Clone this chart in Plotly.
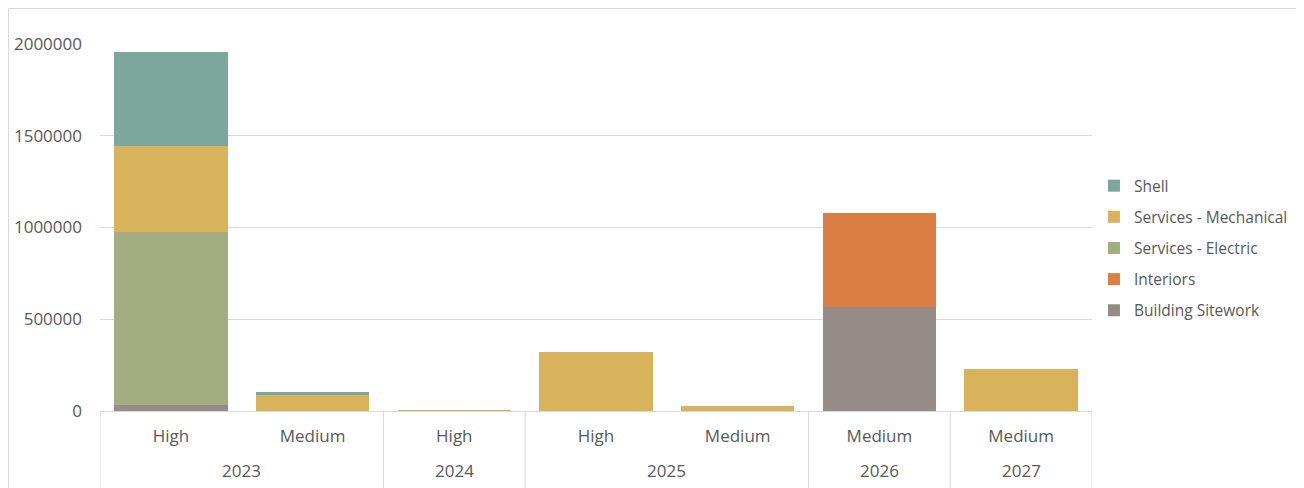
import plotly.graph_objects as go

# categories (year, priority)
years = ["2023", "2023", "2024", "2025", "2025", "2026", "2027"]
levels = ["High", "Medium", "High", "High", "Medium", "Medium", "Medium"]

# series values
building_sitework = [33000, 0, 0, 0, 0, 568000, 0]
interiors = [0, 0, 0, 0, 0, 509000, 0]
services_electric = [941000, 0, 0, 0, 0, 0, 0]
services_mechanical = [472000, 87000, 5000, 321000, 28000, 0, 227000]
shell = [510000, 17000, 0, 0, 0, 0, 0]

series = [
    ("Building Sitework", building_sitework, "#958B89"),
    ("Interiors", interiors, "#DC7F45"),
    ("Services - Electric", services_electric, "#A2AD80"),
    ("Services - Mechanical", services_mechanical, "#D9B25C"),
    ("Shell", shell, "#7BA79D"),
]

pos = list(range(len(levels)))

fig = go.Figure()
for rank, (name, vals, color) in enumerate(series):
    fig.add_trace(go.Bar(
        x=pos, y=vals, name=name,
        marker=dict(color=color, line=dict(width=0)),
        legendgroup=name, legendrank=len(series) - rank,
    ))

# year group labels and dividers
groups = []
for i, yr in enumerate(years):
    if groups and groups[-1][0] == yr:
        groups[-1][2] = i
    else:
        groups.append([yr, i, i])

annotations = []
shapes = []
for yr, a, b in groups:
    annotations.append(dict(
        x=(a + b) / 2, y=-0.161, xref="x", yref="paper",
        text=yr, showarrow=False, yanchor="middle",
        font=dict(size=17, color="#595959"),
    ))
bounds = [g[1] - 0.5 for g in groups] + [groups[-1][2] + 0.5]
for xb in bounds:
    shapes.append(dict(type="line", xref="x", yref="paper",
                       x0=xb, x1=xb, y0=0, y1=-0.3,
                       line=dict(color="#D9D9D9", width=1)))
# outer chart frame
shapes.append(dict(type="rect", xref="paper", yref="paper",
                   x0=-0.0922, x1=1.3, y0=-0.3, y1=1.0967,
                   line=dict(color="#D9D9D9", width=1)))

font_family = "Open Sans, Liberation Sans, sans-serif"
fig.update_layout(
    barmode="stack",
    bargap=0.2,
    width=1304, height=488,
    margin=dict(l=92, r=220, t=36, b=85, autoexpand=False),
    paper_bgcolor="white",
    plot_bgcolor="white",
    font=dict(family=font_family, size=16, color="#595959"),
    showlegend=True,
    legend=dict(
        xref="container", yref="container",
        x=0.8328, y=0.508, xanchor="left", yanchor="middle",
        traceorder="grouped", tracegroupgap=8,
        font=dict(size=15.5, color="#595959"),
        itemwidth=30,
    ),
    yaxis=dict(
        range=[0, 2000000], tickvals=[0, 500000, 1000000, 1500000, 2000000],
        ticktext=["0", "500000", "1000000", "1500000", "2000000"],
        showgrid=True, gridcolor="#D9D9D9", gridwidth=1,
        zeroline=False, showline=False, ticks="", ticklabelstandoff=17,
        tickfont=dict(size=17), automargin=False,
    ),
    xaxis=dict(
        range=[-0.5, len(levels) - 0.5],
        tickvals=pos, ticktext=levels,
        showline=True, linecolor="#D9D9D9", showgrid=False, zeroline=False,
        ticks="", tickfont=dict(size=17), ticklabelstandoff=10,
        automargin=False,
    ),
    annotations=annotations,
    shapes=shapes,
)

fig.write_html("out.html")
